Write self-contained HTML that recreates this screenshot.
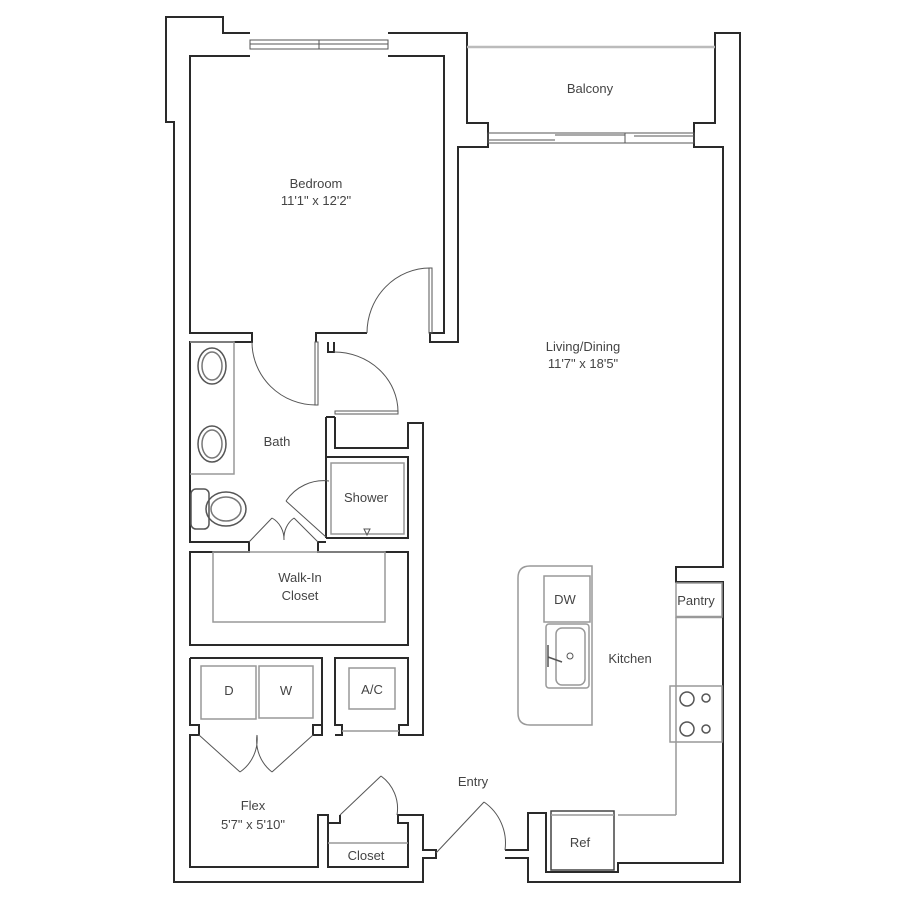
<!DOCTYPE html>
<html><head><meta charset="utf-8"><style>
html,body{margin:0;padding:0;background:#fff;}
svg{display:block}
text{font-family:"Liberation Sans",sans-serif;font-size:13px;fill:#444;text-anchor:middle}
</style></head><body>
<svg width="900" height="900" viewBox="0 0 900 900" xmlns="http://www.w3.org/2000/svg">
<g fill="none" stroke="#2a2a2a" stroke-width="2">
<path d="M250,33 L223,33 L223,17 L166,17 L166,122 L174,122 L174,882 L423,882 L423,858 L436,858 L436,850 L423,850 L423,815 L397,815"/>
<path d="M388,33 L467,33 L467,123 L488,123 L488,147 L458,147 L458,342 L430,342 L430,333 L444,333 L444,56 L388,56"/>
<path d="M250,56 L190,56 L190,333 L252,333 L252,342 L190,342 L190,542 L249,542 L249,552 L190,552 L190,645 L408,645 L408,552 L318,552 L318,542 L326,542"/>
<path d="M316,342 L316,333 L367,333"/>
<path d="M694,133 L694,123 L715,123 L715,33 L740,33 L740,882 L528,882 L528,858 L505,858"/>
<path d="M694,133 L694,147 L723,147 L723,567 L676,567 L676,582 L723,582 L723,863 L618,863 L618,872 L546,872 L546,813 L528,813 L528,850 L505,850"/>
<path d="M328,342 L328,352 L334,352 L334,342"/>
<path d="M326,417 L326,457 L408,457 L408,538 L326,538"/>
<path d="M335,417 L335,448 L408,448 L408,423 L423,423 L423,735 L399,735 L399,725 L408,725 L408,658 L335,658 L335,725 L342,725 L342,735 L335,735"/>
<path d="M326,417 L335,417"/>
<path d="M326,457 L326,538"/>
<path d="M190,658 L322,658 L322,725 L313,725 L313,735 L322,735 L322,658"/>
<path d="M190,658 L190,725 L199,725 L199,735 L190,735 L190,867 L318,867 L318,815 L328,815 L328,823 L340,823 L340,815"/>
<path d="M328,823 L328,867 L408,867 L408,823 L398,823 L398,815 L423,815"/>
</g>
<g fill="none" stroke="#555" stroke-width="1">
<rect x="250" y="40" width="138" height="9"/><line x1="250" y1="44" x2="388" y2="44"/><line x1="319" y1="40" x2="319" y2="49"/>
<rect x="488" y="133" width="206" height="10"/><line x1="488" y1="140" x2="555" y2="140"/><line x1="555" y1="135" x2="625" y2="135"/><line x1="625" y1="133" x2="625" y2="143"/><line x1="634" y1="136" x2="694" y2="136"/>
<rect x="429" y="268" width="3" height="65"/><path d="M430,268 A63,65 0 0 0 367,333"/>
<rect x="315" y="342" width="3" height="63"/><path d="M252,342 A64,63 0 0 0 316,405"/>
<rect x="335" y="411" width="63" height="3"/><path d="M334,352 A64,60 0 0 1 398,412"/>
<path d="M286,501 L326,537"/><path d="M286,501 A45,45 0 0 1 329,481"/>
<path d="M249,542 L272,518 M318,542 L294,518"/><path d="M272,518 A22,24 0 0 1 284,540 M294,518 A22,24 0 0 0 284,540"/>
<path d="M199,735 L240,772 M313,735 L272,772"/><path d="M240,772 A40,40 0 0 0 257,735 M272,772 A40,40 0 0 1 257,735"/>
<path d="M340,815 L381,776"/><path d="M381,776 A40,40 0 0 1 397,815"/>
<path d="M436,853 L484,802"/><path d="M484,802 A50,50 0 0 1 505,850"/>
</g>
<g fill="none" stroke="#999" stroke-width="1.5">
<line x1="467" y1="47" x2="715" y2="47" stroke="#bbb" stroke-width="2.5"/>
<path d="M190,342 L234,342 L234,474 L190,474"/>
<ellipse cx="212" cy="366" rx="14" ry="18" stroke="#555"/><ellipse cx="212" cy="366" rx="10" ry="14" stroke="#777"/>
<ellipse cx="212" cy="444" rx="14" ry="18" stroke="#555"/><ellipse cx="212" cy="444" rx="10" ry="14" stroke="#777"/>
<rect x="191" y="489" width="18" height="40" rx="5" stroke="#555"/>
<ellipse cx="226" cy="509" rx="20" ry="17" stroke="#555"/><ellipse cx="226" cy="509" rx="15" ry="12" stroke="#777"/>
<rect x="331" y="463" width="73" height="71"/>
<path d="M364,529 L370,529 L367,535 Z" stroke="#555" stroke-width="1"/>
<rect x="213" y="552" width="172" height="70"/>
<rect x="201" y="666" width="55" height="53"/><rect x="259" y="666" width="54" height="52"/>
<rect x="349" y="668" width="46" height="41"/>
<line x1="342" y1="731" x2="399" y2="731"/>
<line x1="328" y1="843" x2="408" y2="843"/>
<path d="M592,566 L530,566 Q518,566 518,578 L518,713 Q518,725 530,725 L592,725 Z"/>
<rect x="544" y="576" width="46" height="46"/>
<rect x="546" y="624" width="43" height="64" rx="3"/><rect x="556" y="628" width="29" height="57" rx="6"/>
<line x1="548" y1="645" x2="548" y2="667" stroke="#555"/><line x1="548" y1="657" x2="562" y2="662" stroke="#555"/>
<circle cx="570" cy="656" r="3" stroke="#555" stroke-width="1"/>
<rect x="676" y="583" width="46" height="34"/><line x1="676" y1="617" x2="722" y2="617" stroke-width="2.5"/>
<line x1="676" y1="617" x2="676" y2="686"/><line x1="676" y1="742" x2="676" y2="815"/><line x1="618" y1="815" x2="676" y2="815"/>
<rect x="670" y="686" width="52" height="56"/><line x1="676" y1="686" x2="676" y2="742"/>
<circle cx="687" cy="699" r="7" stroke="#555"/><circle cx="706" cy="698" r="4" stroke="#555"/>
<circle cx="687" cy="729" r="7" stroke="#555"/><circle cx="706" cy="729" r="4" stroke="#555"/>
<rect x="551" y="811" width="63" height="59" stroke="#444"/><line x1="551" y1="815" x2="614" y2="815"/>
</g>
<text x="590" y="93">Balcony</text>
<text x="316" y="188">Bedroom</text>
<text x="316" y="205">11'1" x 12'2"</text>
<text x="583" y="351">Living/Dining</text>
<text x="583" y="368">11'7" x 18'5"</text>
<text x="277" y="446">Bath</text>
<text x="366" y="502">Shower</text>
<text x="300" y="582">Walk-In</text>
<text x="300" y="600">Closet</text>
<text x="565" y="604">DW</text>
<text x="630" y="663">Kitchen</text>
<text x="696" y="605">Pantry</text>
<text x="229" y="695">D</text>
<text x="286" y="695">W</text>
<text x="372" y="694">A/C</text>
<text x="473" y="786">Entry</text>
<text x="253" y="810">Flex</text>
<text x="253" y="829">5'7" x 5'10"</text>
<text x="366" y="860">Closet</text>
<text x="580" y="847">Ref</text>
</svg>
</body></html>
